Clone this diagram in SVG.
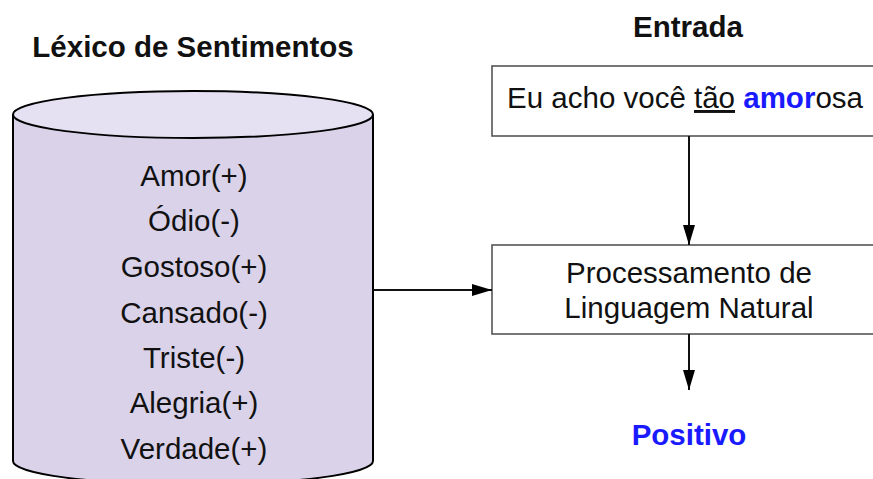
<svg xmlns="http://www.w3.org/2000/svg" width="873" height="479" viewBox="0 0 873 479">
<defs>
<style>
text{font-family:"Liberation Sans",Arial,sans-serif;fill:#111;}
.t{font-size:29.5px;text-anchor:middle;}
.b{font-weight:bold;font-size:29.5px;text-anchor:middle;}
.box{fill:#fff;stroke:#555;stroke-width:1.6;}
.cyl{stroke:#000;stroke-width:2;}
.con{stroke:#111;stroke-width:2;fill:none;marker-end:url(#ah);}
</style>
<marker id="ah" viewBox="0 0 20 12" refX="20" refY="6" markerWidth="20" markerHeight="12" markerUnits="userSpaceOnUse" orient="auto">
<path d="M0,0 L20,6 L0,12 Z" fill="#000"/>
</marker>
</defs>
<rect width="873" height="479" fill="#fff"/>
<g id="lexicon">
<text class="b" x="193" y="57">Léxico de Sentimentos</text>
<path class="cyl" fill="#d9d2e9" d="M13,114.5 L13,461 A180,23.5 0 0 0 373,461 L373,114.5"/>
<ellipse class="cyl" cx="193" cy="114.5" rx="180" ry="23.5" fill="#e6e1f2"/>
<text class="t" x="194" y="186">Amor(+)</text>
<text class="t" x="194" y="231">Ódio(-)</text>
<text class="t" x="194" y="277">Gostoso(+)</text>
<text class="t" x="194" y="323">Cansado(-)</text>
<text class="t" x="194" y="368">Triste(-)</text>
<text class="t" x="194" y="413">Alegria(+)</text>
<text class="t" x="194" y="459">Verdade(+)</text>
</g>
<g id="entrada">
<text class="b" x="688" y="37">Entrada</text>
<rect class="box" x="492" y="66" width="390" height="70"/>
<text class="t" x="685" y="108">Eu acho você <tspan text-decoration="underline">tão</tspan> <tspan font-weight="bold" style="fill:#1a1aff">amor</tspan>osa</text>
</g>
<g id="pln">
<rect class="box" x="492" y="245" width="390" height="89"/>
<text class="t" x="689" y="283">Processamento de</text>
<text class="t" x="689" y="318">Linguagem Natural</text>
</g>
<g id="saida">
<text class="b" x="689" y="445" style="fill:#1a1aff">Positivo</text>
</g>
<g id="connectors">
<line class="con" x1="689" y1="136" x2="689" y2="245"/>
<line class="con" x1="373" y1="290" x2="492" y2="290"/>
<line class="con" x1="689" y1="334" x2="689" y2="390"/>
</g>
</svg>
